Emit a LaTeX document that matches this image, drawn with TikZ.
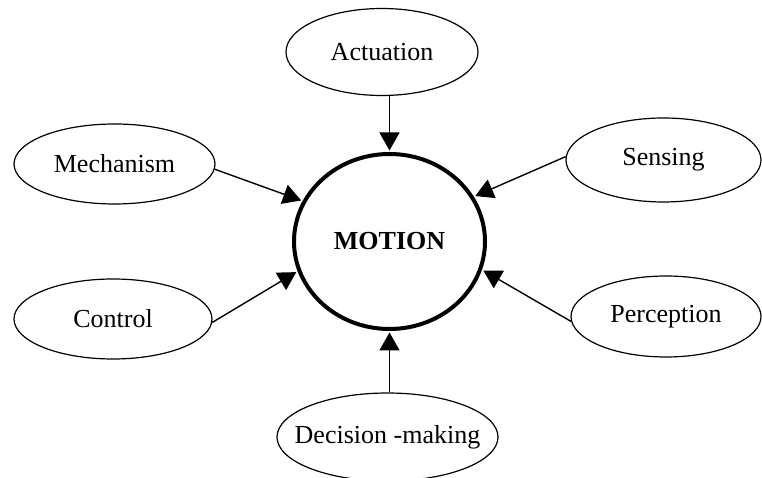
\documentclass[tikz,border=0pt]{standalone}
\usepackage{fontspec}
\setmainfont{Liberation Serif}
\usetikzlibrary{shapes.geometric,arrows.meta}
\begin{document}
\begin{tikzpicture}[x=1pt,y=1pt,
  font=\fontsize{26}{31}\selectfont,
  part/.style={draw, ellipse, line width=1.2pt, inner sep=0pt},
  feed/.style={line width=1.4pt, -{Triangle[length=18pt,width=20pt]}, shorten >=1.5pt}]
\clip (0,0) rectangle (762,478);
\fill[white] (0,0) rectangle (762,478);

\node[draw, ellipse, line width=4pt, minimum width=191pt, minimum height=175pt] (motion) at (389.5,236.5) {\bfseries MOTION};

\node[part, minimum width=192pt, minimum height=87pt] (act) at (382,426) {Actuation};
\node[part, minimum width=201pt, minimum height=80pt] (mech) at (114.5,314) {Mechanism};
\node[part, minimum width=195pt, minimum height=84pt] (sens) at (663.5,318) {Sensing};
\node[part, minimum width=198pt, minimum height=80pt] (ctrl) at (113,159) {Control};
\node[part, minimum width=190pt, minimum height=81pt] (perc) at (666,161.5) {Perception};
\node[part, inner xsep=-18pt, minimum width=221pt, minimum height=88pt] (dec) at (387.5,41) {Decision -making};

\draw[feed] (motion.north |- act.south) -- (motion.north);
\draw[feed] (mech.-3) -- (motion.155.6);
\draw[feed] (sens.178) -- (motion.28.5);
\draw[feed] (ctrl.-2) -- (motion.-162);
\draw[feed] (perc.-177) -- (motion.-17);
\draw[feed] (motion.south |- dec.north) -- (motion.south);

\end{tikzpicture}
\end{document}
